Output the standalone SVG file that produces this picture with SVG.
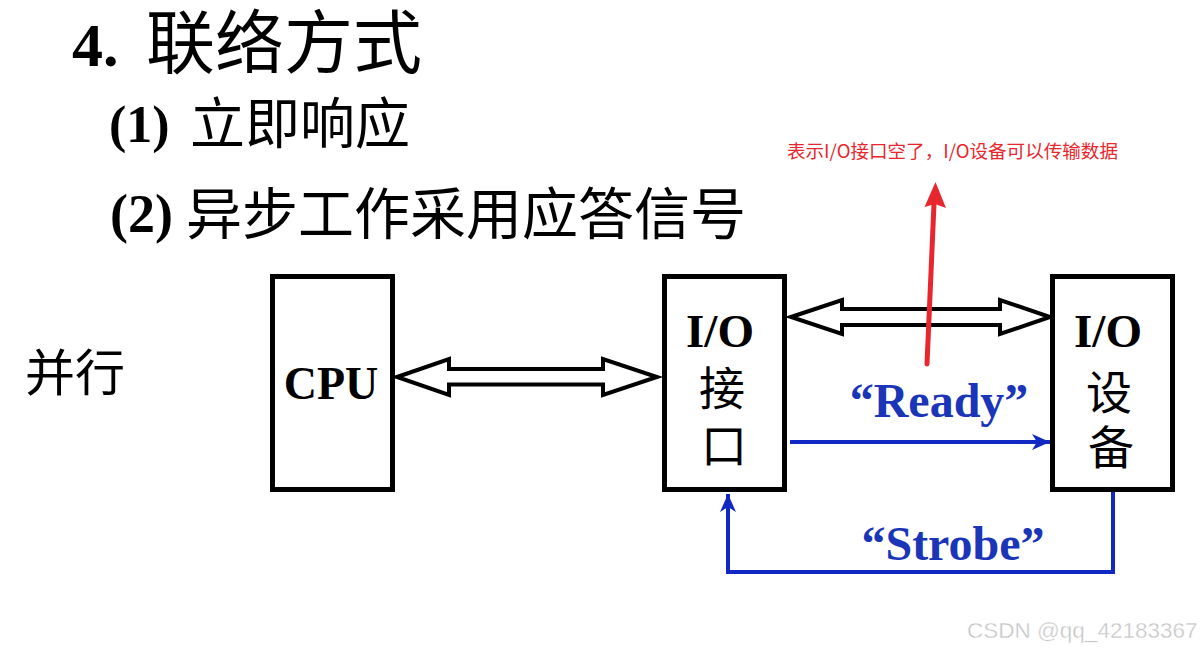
<svg xmlns="http://www.w3.org/2000/svg" width="1204" height="650" viewBox="0 0 1204 650">
  <style>
    .box { fill: #ffffff; stroke: #000000; stroke-width: 5; }
    .bus { fill: #ffffff; stroke: #000000; stroke-width: 4; stroke-linejoin: miter; }
    .sig { fill: none; stroke: #1228c4; stroke-width: 4; stroke-linejoin: miter; }
    .latin { font-family: "Liberation Serif", "Times New Roman", serif; font-weight: bold; fill: #000000; }
    .cjk { font-family: "Noto Sans CJK SC", "Noto Sans", sans-serif; font-weight: normal; fill: #000000; }
    .siglabel { font-family: "Liberation Serif", "Times New Roman", serif; font-weight: bold; font-size: 48px; fill: #1a35b8; text-anchor: middle; }
    .note { font-family: "Noto Sans CJK SC", "Noto Sans", sans-serif; font-size: 18px; fill: #e8262e; }
  </style>
  <defs>
    <marker id="blueHead" markerUnits="userSpaceOnUse" markerWidth="20" markerHeight="18" refX="18" refY="8" orient="auto">
      <path d="M0,0 L18,8 L0,16 L5,8 z" fill="#1228c4"/>
    </marker>
  </defs>

  <rect width="1204" height="650" fill="#ffffff"/>

  <!-- headings -->
  <g id="headings">
    <text x="72" y="66" class="latin" font-size="62">4.</text>
    <text x="146" y="68" class="cjk" font-size="69">联络方式</text>
    <text x="109" y="142" class="latin" font-size="52">(1)</text>
    <text x="190" y="143" class="cjk" font-size="55">立即响应</text>
    <text x="110" y="232" class="latin" font-size="54">(2)</text>
    <text x="186" y="234" class="cjk" font-size="56">异步工作采用应答信号</text>
    <text x="25" y="391" class="cjk" font-size="50">并行</text>
  </g>

  <!-- buses and handshake signals -->
  <g id="connectors">
    <polygon class="bus" points="397,377 449,359 449,369 603,369 603,359 657,377 603,395 603,384.5 449,384.5 449,395"/>
    <polygon class="bus" points="791,317 842,300 842,309 1000,309 1000,300 1050,317 1000,334 1000,325 842,325 842,334"/>
    <line class="sig" x1="790" y1="442" x2="1050" y2="442" marker-end="url(#blueHead)"/>
    <polyline class="sig" points="1113,492 1113,572 728,572 728,494" marker-end="url(#blueHead)"/>
    <line x1="927" y1="364" x2="934" y2="204" stroke="#e8262e" stroke-width="5" stroke-linecap="round"/>
    <polygon points="935.5,182 946,208 935,204 924.5,207" fill="#e8262e"/>
  </g>

  <g id="cpu">
    <rect class="box" x="272.5" y="276.5" width="120" height="213"/>
    <text x="331" y="399" class="latin" font-size="46" text-anchor="middle">CPU</text>
  </g>

  <g id="io-interface">
    <rect class="box" x="664.5" y="276.5" width="120" height="213"/>
    <text text-anchor="middle">
      <tspan x="722" y="347" class="latin" font-size="47">I/O</tspan>
      <tspan x="724" y="405" class="cjk" font-size="46">接</tspan>
      <tspan x="724" y="462" class="cjk" font-size="46">口</tspan>
    </text>
  </g>

  <g id="io-device">
    <rect class="box" x="1052.5" y="276.5" width="120" height="213"/>
    <text text-anchor="middle">
      <tspan x="1110" y="347" class="latin" font-size="47">I/O</tspan>
      <tspan x="1111" y="409" class="cjk" font-size="46">设</tspan>
      <tspan x="1111" y="464" class="cjk" font-size="46">备</tspan>
    </text>
  </g>

  <!-- signal labels -->
  <g id="labels">
    <text x="939" y="417" class="siglabel">“Ready”</text>
    <text x="953" y="560" class="siglabel">“Strobe”</text>
    <text x="787" y="158" class="note" textLength="331" lengthAdjust="spacingAndGlyphs">表示I/O接口空了，I/O设备可以传输数据</text>
  </g>

  <text x="967" y="638" font-family="Liberation Sans, Arial, sans-serif" font-size="22.5" fill="#c4c4c4" stroke="#ffffff" stroke-width="0.4">CSDN @qq_42183367</text>
</svg>
